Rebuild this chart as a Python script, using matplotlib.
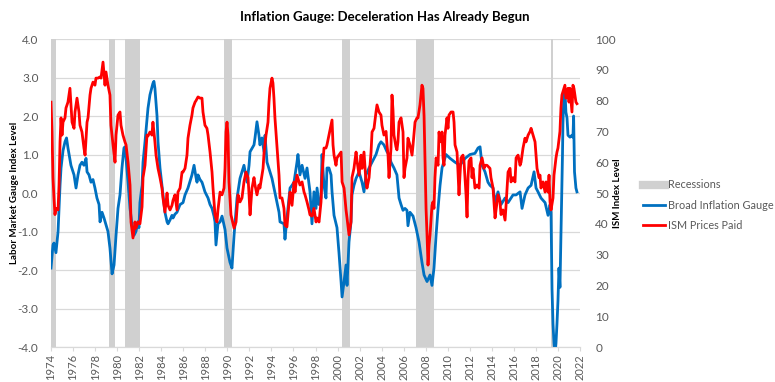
import matplotlib
matplotlib.use("Agg")
import matplotlib.pyplot as plt
from matplotlib.lines import Line2D

plt.rcParams['font.family'] = ['Lato', 'DejaVu Sans']
plt.rcParams['axes.unicode_minus'] = False

# recessions as they sit on the chart's own year axis
rec_start = [1973.9, 1979.29, 1980.71, 1989.70, 2000.41, 2007.12, 2019.37]
rec_end = [1974.43, 1979.81, 1982.07, 1990.42, 2001.13, 2008.72, 2019.52]

# Broad Inflation Gauge (left axis)
blue_year = [1974.00, 1974.18, 1974.27, 1974.45, 1974.64, 1974.82, 1974.91, 1975.09, 1975.27, 1975.41,
             1975.54, 1975.81, 1976.09, 1976.27, 1976.45, 1976.63, 1976.81, 1976.99, 1977.18, 1977.27,
             1977.45, 1977.63, 1977.81, 1977.99, 1978.17, 1978.36, 1978.45, 1978.63, 1978.81, 1978.99,
             1979.17, 1979.35, 1979.54, 1979.72, 1979.90, 1980.08, 1980.26, 1980.44, 1980.62, 1980.71,
             1980.81, 1980.99, 1981.17, 1981.35, 1981.53, 1981.71, 1981.89, 1981.98, 1982.07, 1982.26,
             1982.35, 1982.53, 1982.80, 1982.98, 1983.25, 1983.34, 1983.43, 1983.62, 1983.71, 1983.89,
             1984.16, 1984.34, 1984.53, 1984.62, 1984.80, 1984.98, 1985.07, 1985.25, 1985.43, 1985.71,
             1985.98, 1986.16, 1986.43, 1986.61, 1986.79, 1986.98, 1987.16, 1987.25, 1987.34, 1987.52,
             1987.70, 1987.79, 1987.97, 1988.25, 1988.43, 1988.61, 1988.79, 1988.88, 1988.97, 1989.15,
             1989.34, 1989.52, 1989.79, 1989.97, 1990.24, 1990.42, 1990.61, 1990.88, 1991.15, 1991.51,
             1991.79, 1991.97, 1992.06, 1992.42, 1992.51, 1992.69, 1992.87, 1992.96, 1993.14, 1993.33,
             1993.42, 1993.60, 1993.87, 1994.05, 1994.23, 1994.51, 1994.69, 1994.78, 1995.14, 1995.23,
             1995.41, 1995.60, 1995.69, 1995.87, 1996.05, 1996.32, 1996.41, 1996.59, 1996.78, 1997.05,
             1997.23, 1997.50, 1997.68, 1997.86, 1998.05, 1998.14, 1998.32, 1998.50, 1998.59, 1998.77,
             1998.95, 1999.04, 1999.22, 1999.41, 1999.50, 1999.68, 1999.95, 2000.13, 2000.32, 2000.41,
             2000.59, 2000.77, 2000.86, 2001.04, 2001.22, 2001.31, 2001.49, 2001.68, 2001.95, 2002.22,
             2002.40, 2002.58, 2002.86, 2003.13, 2003.49, 2003.76, 2003.94, 2004.21, 2004.49, 2004.67,
             2004.85, 2005.12, 2005.39, 2005.58, 2005.76, 2005.94, 2006.12, 2006.30, 2006.39, 2006.57,
             2006.85, 2007.12, 2007.39, 2007.66, 2007.85, 2008.12, 2008.39, 2008.57, 2008.75, 2008.94,
             2009.12, 2009.30, 2009.48, 2009.84, 2010.21, 2010.66, 2011.11, 2011.57, 2012.02, 2012.47,
             2012.75, 2012.93, 2013.11, 2013.38, 2013.65, 2013.83, 2014.11, 2014.29, 2014.56, 2014.83,
             2015.20, 2015.47, 2015.92, 2016.20, 2016.56, 2016.74, 2017.01, 2017.29, 2017.56, 2017.83,
             2018.01, 2018.19, 2018.46, 2018.83, 2019.10, 2019.28, 2019.37, 2019.46, 2019.55, 2019.64,
             2019.73, 2019.82, 2019.91, 2020.00, 2020.09, 2020.18, 2020.27, 2020.36, 2020.41, 2020.45,
             2020.54, 2020.63, 2020.72, 2020.82, 2020.91, 2021.09, 2021.27, 2021.36, 2021.42, 2021.50,
             2021.63, 2021.72]
blue_val = [-1.95, -1.35, -1.3, -1.55, -1.0, 0.2, 0.65, 1.1, 1.33, 1.43,
            1.17, 0.72, 0.47, 0.13, 0.47, 0.72, 0.8, 0.72, 0.9, 0.55,
            0.47, 0.28, 0.35, 0.13, -0.13, -0.3, -0.75, -0.5, -0.65, -0.83,
            -1.0, -1.43, -2.1, -1.87, -1.1, -0.4, -0.05, 0.65, 1.17, 1.2,
            0.9, 0.28, -0.4, -0.83, -1.1, -1.0, -0.75, -0.9, -0.25, 0.2,
            0.8, 1.33, 2.2, 2.55, 2.85, 2.9, 2.72, 2.0, 1.33, 0.65,
            -0.05, -0.5, -0.75, -0.8, -0.7, -0.58, -0.65, -0.55, -0.5, -0.3,
            -0.25, -0.05, 0.13, 0.3, 0.47, 0.72, 0.4, 0.28, 0.47, 0.35,
            0.28, 0.2, 0.03, -0.13, -0.3, -0.4, -0.6, -0.75, -1.35, -0.8,
            -0.75, -0.6, -0.95, -1.43, -1.8, -1.95, -1.1, -0.13, 0.38, 0.72,
            0.28, 0.72, 1.07, 1.25, 1.43, 1.85, 1.5, 1.25, 1.43, 1.07,
            1.5, 0.8, 0.55, 0.38, 0.13, -0.25, -0.5, -0.75, -0.8, -1.2,
            -0.65, -0.13, 0.13, 0.2, 0.28, 0.8, 1.0, 0.47, 0.72, 0.38,
            0.65, 0.03, -0.8, 0.03, -0.4, 0.13, -0.3, -0.13, 1.0, 0.2,
            -0.13, 0.65, 0.65, 0.47, 0.03, -0.58, -0.9, -1.55, -2.3, -2.7,
            -2.3, -1.87, -2.4, -1.27, -0.75, -0.05, 0.2, 0.38, 0.55, 0.28,
            0.03, 0.47, 0.65, 0.8, 1.0, 1.25, 1.33, 1.25, 1.07, 1.0,
            0.8, 0.65, 0.47, -0.13, -0.3, -0.45, -0.4, -0.45, -0.85, -0.5,
            -0.6, -0.9, -1.27, -1.8, -2.13, -2.3, -2.13, -2.4, -1.95, -1.1,
            -0.4, 0.2, 0.65, 1.0, 0.9, 0.8, 0.72, 0.9, 1.0, 1.03,
            1.17, 1.2, 0.72, 0.55, 0.28, 0.2, 0.13, -0.25, 0.03, -0.3,
            -0.13, -0.25, -0.05, -0.05, 0.03, -0.4, -0.05, 0.13, 0.2, 0.55,
            0.13, 0.03, -0.13, -0.25, -0.58, -0.3, -0.5, -2.5, -3.4, -3.9,
            -4.2, -3.9, -3.4, -2.8, -1.95, -2.45, -1.1, 0.1, 1.0, 1.8,
            2.6, 2.7, 2.1, 1.95, 1.5, 1.45, 1.5, 1.45, 2.0, 0.55,
            0.13, 0.03]

# ISM Prices Paid (right axis)
red_year = [1974.00, 1974.09, 1974.18, 1974.27, 1974.36, 1974.45, 1974.64, 1974.73, 1974.82, 1974.91,
            1975.00, 1975.09, 1975.27, 1975.36, 1975.54, 1975.72, 1975.81, 1975.91, 1976.09, 1976.18,
            1976.36, 1976.54, 1976.63, 1976.81, 1976.99, 1977.09, 1977.27, 1977.36, 1977.54, 1977.63,
            1977.81, 1977.99, 1978.08, 1978.26, 1978.45, 1978.54, 1978.72, 1978.90, 1978.99, 1979.17,
            1979.35, 1979.44, 1979.63, 1979.81, 1979.90, 1980.08, 1980.26, 1980.35, 1980.53, 1980.71,
            1980.81, 1980.99, 1981.17, 1981.26, 1981.44, 1981.62, 1981.71, 1981.89, 1982.07, 1982.26,
            1982.35, 1982.53, 1982.71, 1982.80, 1982.98, 1983.16, 1983.25, 1983.43, 1983.53, 1983.71,
            1983.89, 1984.07, 1984.16, 1984.34, 1984.53, 1984.62, 1984.80, 1984.98, 1985.07, 1985.25,
            1985.43, 1985.52, 1985.71, 1985.89, 1985.98, 1986.16, 1986.34, 1986.43, 1986.61, 1986.79,
            1986.88, 1987.07, 1987.16, 1987.34, 1987.52, 1987.70, 1987.79, 1987.97, 1988.15, 1988.25,
            1988.43, 1988.61, 1988.70, 1988.88, 1989.06, 1989.15, 1989.34, 1989.52, 1989.70, 1989.79,
            1989.88, 1989.97, 1990.06, 1990.15, 1990.33, 1990.61, 1990.79, 1990.97, 1991.15, 1991.33,
            1991.51, 1991.69, 1991.88, 1991.97, 1992.06, 1992.24, 1992.42, 1992.51, 1992.69, 1992.87,
            1992.96, 1993.24, 1993.33, 1993.51, 1993.69, 1993.78, 1993.87, 1994.05, 1994.14, 1994.23,
            1994.32, 1994.51, 1994.69, 1994.78, 1994.96, 1995.14, 1995.23, 1995.41, 1995.60, 1995.69,
            1995.87, 1996.05, 1996.14, 1996.32, 1996.50, 1996.59, 1996.78, 1996.96, 1997.05, 1997.23,
            1997.41, 1997.50, 1997.68, 1997.86, 1998.05, 1998.14, 1998.32, 1998.50, 1998.59, 1998.77,
            1998.95, 1999.04, 1999.22, 1999.41, 1999.50, 1999.59, 1999.68, 1999.86, 1999.95, 2000.13,
            2000.32, 2000.41, 2000.59, 2000.77, 2000.86, 2001.04, 2001.22, 2001.31, 2001.49, 2001.68,
            2001.77, 2001.95, 2002.13, 2002.22, 2002.40, 2002.58, 2002.67, 2002.86, 2003.04, 2003.13,
            2003.31, 2003.49, 2003.58, 2003.76, 2003.94, 2004.03, 2004.21, 2004.40, 2004.49, 2004.58,
            2004.67, 2004.85, 2004.94, 2005.03, 2005.12, 2005.30, 2005.39, 2005.48, 2005.58, 2005.76,
            2005.94, 2006.03, 2006.12, 2006.30, 2006.39, 2006.57, 2006.76, 2006.85, 2007.03, 2007.21,
            2007.30, 2007.48, 2007.57, 2007.66, 2007.75, 2007.85, 2007.94, 2008.03, 2008.12, 2008.21,
            2008.30, 2008.39, 2008.57, 2008.66, 2008.75, 2008.84, 2008.94, 2009.12, 2009.21, 2009.30,
            2009.48, 2009.57, 2009.66, 2009.75, 2009.93, 2010.02, 2010.11, 2010.30, 2010.48, 2010.57,
            2010.66, 2010.84, 2010.93, 2011.02, 2011.11, 2011.20, 2011.38, 2011.47, 2011.66, 2011.75,
            2011.84, 2011.93, 2012.11, 2012.20, 2012.29, 2012.47, 2012.66, 2012.84, 2012.93, 2013.11,
            2013.29, 2013.38, 2013.56, 2013.83, 2013.92, 2014.11, 2014.29, 2014.38, 2014.56, 2014.74,
            2014.83, 2015.01, 2015.20, 2015.29, 2015.47, 2015.65, 2015.74, 2015.92, 2016.10, 2016.20,
            2016.38, 2016.56, 2016.65, 2016.83, 2017.01, 2017.10, 2017.29, 2017.47, 2017.56, 2017.74,
            2017.92, 2018.01, 2018.10, 2018.28, 2018.37, 2018.46, 2018.64, 2018.83, 2018.92, 2019.10,
            2019.19, 2019.28, 2019.37, 2019.55, 2019.64, 2019.82, 2019.91, 2020.00, 2020.18, 2020.27,
            2020.36, 2020.54, 2020.63, 2020.72, 2020.91, 2021.00, 2021.09, 2021.27, 2021.36, 2021.45,
            2021.63, 2021.72]
red_val = [79.5, 70, 55, 48.4, 43, 45, 44.5, 52.6, 66.6, 74.4,
           68.8, 73, 74.4, 77.6, 79.5, 84, 78.6, 73, 71, 76.3,
           80.8, 76.3, 72, 69.8, 64.6, 62.3, 73, 74.4, 81.8, 84,
           86, 85, 87.3, 87.3, 87.7, 87.3, 92.5, 85, 89.3, 85,
           81.8, 72, 65.6, 60, 68.8, 75.3, 76.3, 72, 68.8, 66.6,
           65.6, 60, 52.6, 40.6, 35.4, 40.6, 38.6, 40.6, 40, 45.5,
           55, 59, 68.8, 68.5, 69.8, 68.8, 73, 66.6, 62.3, 58,
           55, 51.6, 48.4, 43.8, 50, 46, 44.5, 46, 47.6, 49.4,
           44.5, 50.3, 51.6, 56.8, 56.8, 58, 62.3, 67.8, 72, 75.3,
           77.6, 79.5, 80, 81.2, 80.8, 80.8, 76.3, 72, 71, 68.8,
           63.3, 56.8, 51.6, 42.9, 40.6, 44.5, 50.3, 49.4, 51.6, 58,
           69.8, 73, 68.8, 53.6, 42.9, 38.6, 40.6, 49.4, 47.1, 48.4,
           53.6, 56.8, 55, 49.4, 42.9, 51.6, 55, 52.6, 49.4, 52.6,
           51.6, 58, 63, 68.8, 73, 79.5, 84, 87.3, 85.7, 80.8,
           74.4, 64.6, 55.8, 48.4, 48.4, 45, 39.6, 39, 47.1, 50.3,
           46, 53.6, 50.3, 55.8, 53.6, 52.6, 53.6, 50.3, 49.4, 47.1,
           44.5, 42.9, 42.5, 45, 40.6, 41.9, 40.6, 47.1, 55.8, 64.6,
           64.6, 65.6, 68.8, 72, 73.7, 65.6, 62.3, 59, 61.4, 62.3,
           63.3, 53.6, 51.6, 44.5, 41.9, 36.4, 40.6, 55, 58, 63.3,
           60.4, 55.8, 62.3, 58, 63.3, 53.6, 51.6, 55, 63.3, 69.8,
           71, 76.3, 78.6, 76.3, 75.3, 72, 68.8, 70, 65.6, 62.3,
           55, 64.6, 81.8, 77, 68.8, 65, 64, 66.6, 73, 74.4,
           69.8, 55, 58, 61.4, 67.8, 65.6, 62.3, 65.6, 73, 74.4,
           74.4, 78.6, 81.8, 85, 84, 75, 60, 45, 36.4, 26.6,
           33, 36.4, 46, 47.1, 45, 55, 61.4, 59, 69.8, 66.6,
           69.8, 61.4, 59, 68.8, 74.4, 71, 75.3, 76.3, 76.3, 73,
           65.6, 63.3, 56.8, 49.4, 55.8, 61.4, 62.3, 60.4, 49.4, 42.2,
           55, 60.4, 61.4, 55, 58, 51.6, 52.6, 51.6, 59, 61.4,
           58, 59, 59, 58, 55, 51.6, 41.9, 44.5, 49.4, 47.1,
           43, 44.5, 41.2, 46, 56.8, 58, 53.6, 55, 53.6, 61.4,
           62.3, 59, 60, 64.6, 67.8, 66.6, 68.8, 70, 71, 68.8,
           66.6, 62.3, 58, 55, 55.8, 51.6, 53.6, 50.3, 53.6, 50.3,
           55.8, 47.1, 44.5, 48.4, 55.8, 61.4, 63.3, 64.6, 70, 77.6,
           81.8, 84, 85, 80.8, 84, 79.5, 84, 76.3, 85, 84,
           79.5, 79]

year_ticks = list(range(1974, 2023, 2))
left_ticks = [-4, -3, -2, -1, 0, 1, 2, 3, 4]
right_ticks = list(range(0, 101, 10))

BLUE = '#0070C0'
RED = '#FF0000'
GREY = '#D0D0D0'
TXT = '#595959'

fig = plt.figure(figsize=(7.75, 3.82), dpi=100)
ax = fig.add_axes([0.0658, 0.0916, 0.6826, 0.8063])
ax2 = ax.twinx()

for s, e in zip(rec_start, rec_end):
    ax.axvspan(s, e, color=GREY, lw=0, zorder=1)
ax.plot(blue_year, blue_val, color=BLUE, lw=2.0, zorder=3)
ax2.plot(red_year, red_val, color=RED, lw=2.0, zorder=3)

ax.set_xlim(1974, 2022)
ax.set_ylim(-4, 4)
ax2.set_ylim(0, 100)

ax.set_yticks(left_ticks)
ax.set_yticklabels(['%.1f' % v for v in left_ticks])
ax2.set_yticks(right_ticks)
ax.set_xticks(year_ticks)
ax.set_xticklabels([str(y) for y in year_ticks], rotation=90)

ax.grid(axis='y', color='#D9D9D9', lw=0.9, zorder=0)
ax.set_axisbelow(True)
for a in (ax, ax2):
    for side in ('left', 'right', 'top'):
        a.spines[side].set_visible(False)
    a.spines['bottom'].set_color('#D9D9D9')
ax.tick_params(axis='y', length=0, pad=9, labelsize=8.5, labelcolor=TXT)
ax2.tick_params(axis='y', length=0, pad=11, labelsize=8.5, labelcolor=TXT)
ax.tick_params(axis='x', length=3, color='#D9D9D9', pad=2, labelsize=8, labelcolor=TXT)

fig.text(0.497, 0.955, 'Inflation Gauge: Deceleration Has Already Begun',
         ha='center', va='center', fontsize=9.5, fontweight='bold')
fig.text(15 / 775, 0.495, 'Labor Market Gauge Index Level', rotation=90,
         ha='center', va='center', fontsize=7, fontweight='bold')
fig.text(617 / 775, 0.493, 'ISM Index Level', rotation=90,
         ha='center', va='center', fontsize=7, fontweight='bold')

handles = [Line2D([], [], color=GREY, lw=6),
           Line2D([], [], color=BLUE, lw=2.0),
           Line2D([], [], color=RED, lw=2.0)]
leg = fig.legend(handles, ['Recessions', 'Broad Inflation Gauge', 'ISM Prices Paid'],
                 loc='center left', bbox_to_anchor=(643 / 775, 1 - 205 / 382),
                 frameon=False, fontsize=7.8, handlelength=2.0, handletextpad=0.3,
                 labelspacing=0.85, borderpad=0, borderaxespad=0)
for t in leg.get_texts():
    t.set_color(TXT)

fig.savefig('out.png', dpi=100)
